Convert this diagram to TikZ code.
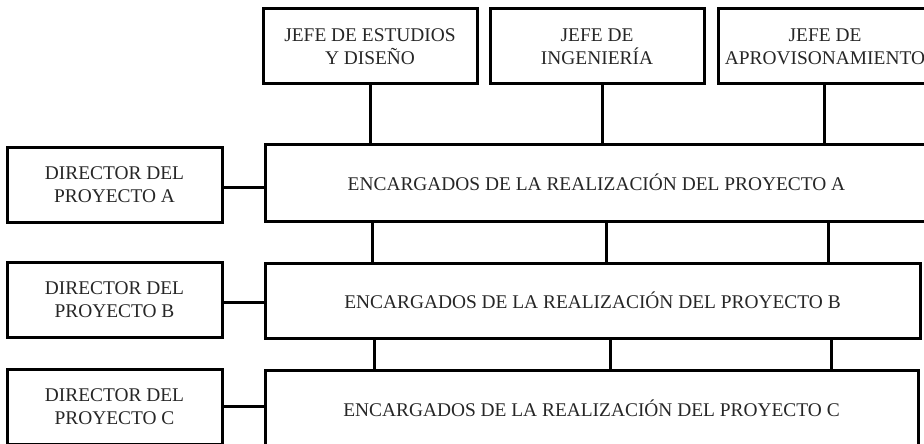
\documentclass[tikz,border=0pt]{standalone}
\usepackage{fontspec}
\setmainfont{Liberation Serif}
\usetikzlibrary{calc}

\begin{document}
\begin{tikzpicture}[x=1pt,y=-1pt,line width=3pt,
    caja/.style={draw,inner sep=0pt,align=center,text=black!85,
        font=\fontsize{19.4}{23}\selectfont},
    jefe/.style={caja,minimum width=214pt,minimum height=75pt},
    director/.style={caja,minimum width=215pt,minimum height=75pt}]
    \useasboundingbox (0,0) rectangle (924,444);
    \clip (0,0) rectangle (924,444);

    % Jefes
    \node[jefe] (jefeEst) at (370,46.5) {JEFE DE ESTUDIOS\\Y DISEÑO};
    \node[jefe] (jefeIng) at (597,46.5) {JEFE DE\\INGENIERÍA};
    \node[jefe] (jefeApr) at (825,46.5) {JEFE DE\\APROVISONAMIENTO};

    % Encargados
    \node[caja,minimum width=663pt,minimum height=77pt] (encA) at (596.5,182.5)
        {ENCARGADOS DE LA REALIZACIÓN DEL PROYECTO A};
    \node[caja,minimum width=655pt,minimum height=75pt] (encB) at (592.5,300.5)
        {ENCARGADOS DE LA REALIZACIÓN DEL PROYECTO B};
    \node[caja,minimum width=653pt,minimum height=76pt] (encC) at (591.5,408)
        {ENCARGADOS DE LA REALIZACIÓN DEL PROYECTO C};

    % Directores
    \node[director] (dirA) at (114.5,184.5) {DIRECTOR DEL\\PROYECTO A};
    \node[director] (dirB) at (114.5,300) {DIRECTOR DEL\\PROYECTO B};
    \node[director] (dirC) at (114.5,406.5) {DIRECTOR DEL\\PROYECTO C};

    % Conexiones
    \draw (jefeEst.south) -- (jefeEst.south |- encA.north);
    \draw ($(jefeIng.south)+(5,0)$) -- ($(jefeIng.south |- encA.north)+(5,0)$);
    \draw ($(jefeApr.south)+(-1,0)$) -- ($(jefeApr.south |- encA.north)+(-1,0)$);

    \draw ($(encA.south -| jefeEst)+(2,0)$) -- ($(encB.north -| jefeEst)+(2,0)$);
    \draw ($(encA.south -| jefeIng)+(9,0)$) -- ($(encB.north -| jefeIng)+(9,0)$);
    \draw ($(encA.south -| jefeApr)+(3,0)$) -- ($(encB.north -| jefeApr)+(3,0)$);

    \draw ($(encB.south -| jefeEst)+(4,0)$) -- ($(encC.north -| jefeEst)+(4,0)$);
    \draw ($(encB.south -| jefeIng)+(13,0)$) -- ($(encC.north -| jefeIng)+(13,0)$);
    \draw ($(encB.south -| jefeApr)+(6,0)$) -- ($(encC.north -| jefeApr)+(6,0)$);

    \draw ($(dirA.east)+(0,2.5)$) -- ($(dirA.east -| encA.west)+(0,2.5)$);
    \draw ($(dirB.east)+(0,2)$) -- ($(dirB.east -| encB.west)+(0,2)$);
    \draw (dirC.east) -- (dirC.east -| encC.west);
\end{tikzpicture}
\end{document}
